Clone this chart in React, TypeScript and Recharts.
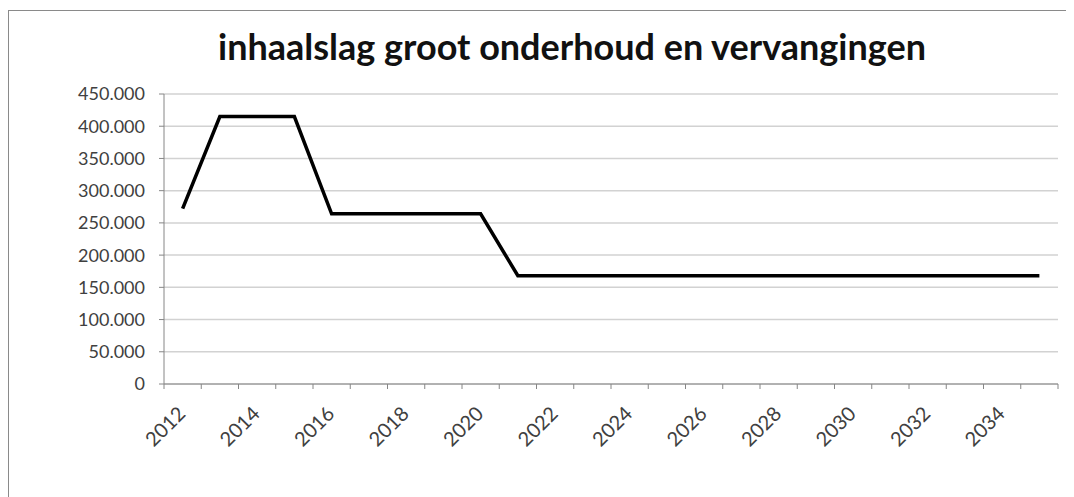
import { LineChart, Line, XAxis, YAxis, CartesianGrid } from 'recharts';

const years = [
  '2012', '2013', '2014', '2015', '2016', '2017', '2018', '2019', '2020', '2021', '2022', '2023',
  '2024', '2025', '2026', '2027', '2028', '2029', '2030', '2031', '2032', '2033', '2034', '2035',
];
const amounts = [
  272000, 415000, 415000, 415000, 264000, 264000, 264000, 264000, 264000, 168000, 168000, 168000,
  168000, 168000, 168000, 168000, 168000, 168000, 168000, 168000, 168000, 168000, 168000, 168000,
];
const yTicks = [0, 50000, 100000, 150000, 200000, 250000, 300000, 350000, 400000, 450000];

const chartData = years.map((year, i) => ({ year, amount: amounts[i] }));

const FONT = 'Lato, "Open Sans", sans-serif';
const PLOT_WIDTH = 894;
const BAND = PLOT_WIDTH / years.length;

// dutch thousands separator: 450.000
const formatNL = (v: number) => String(v).replace(/\B(?=(\d{3})+(?!\d))/g, '.');

function YearTick(props: any) {
  const { x, y, payload, index } = props;
  const left = x - BAND / 2;
  const tx = x + 4;
  const ty = y + 31;
  return (
    <g>
      <line x1={left} x2={left} y1={y} y2={y + 5} stroke="#868686" />
      {index === years.length - 1 && (
        <line x1={x + BAND / 2} x2={x + BAND / 2} y1={y} y2={y + 5} stroke="#868686" />
      )}
      {index % 2 === 0 && (
        <text
          x={tx}
          y={ty}
          textAnchor="end"
          fill="#404040"
          fontSize={20}
          fontFamily={FONT}
          transform={`rotate(-45, ${tx}, ${ty})`}
        >
          {payload.value}
        </text>
      )}
    </g>
  );
}

export default function App() {
  return (
    <div style={{ position: 'relative', width: 1066, height: 489, overflow: 'hidden' }}>
      <div
        style={{
          position: 'absolute',
          top: 2,
          left: 0,
          width: 1200,
          height: 600,
          border: '1px solid #8a8a8a',
          background: '#fff',
        }}
      >
        <div
          style={{
            position: 'absolute',
            left: 563,
            top: 17,
            transform: 'translateX(-50%)',
            whiteSpace: 'nowrap',
            fontFamily: FONT,
            fontWeight: 700,
            fontSize: 36,
            lineHeight: '36px',
            color: '#111',
          }}
        >
          inhaalslag groot onderhoud en vervangingen
        </div>
        <LineChart
          width={1065}
          height={486}
          data={chartData}
          margin={{ top: 83, right: 16, bottom: 43, left: 0 }}
        >
          <CartesianGrid vertical={false} stroke="#d2d2d2" strokeWidth={1.5} />
          <XAxis
            dataKey="year"
            scale="band"
            interval={0}
            height={70}
            tickSize={0}
            tickMargin={0}
            tickLine={false}
            axisLine={{ stroke: '#868686' }}
            tick={<YearTick />}
          />
          <YAxis
            width={155}
            domain={[0, 450000]}
            ticks={yTicks}
            interval={0}
            tickFormatter={formatNL}
            tickSize={5}
            tickMargin={14}
            axisLine={{ stroke: '#868686' }}
            tickLine={{ stroke: '#868686' }}
            tick={{ fill: '#404040', fontSize: 18, fontFamily: FONT }}
          />
          <Line
            type="linear"
            dataKey="amount"
            stroke="#000"
            strokeWidth={3.5}
            dot={false}
            isAnimationActive={false}
          />
        </LineChart>
      </div>
    </div>
  );
}
